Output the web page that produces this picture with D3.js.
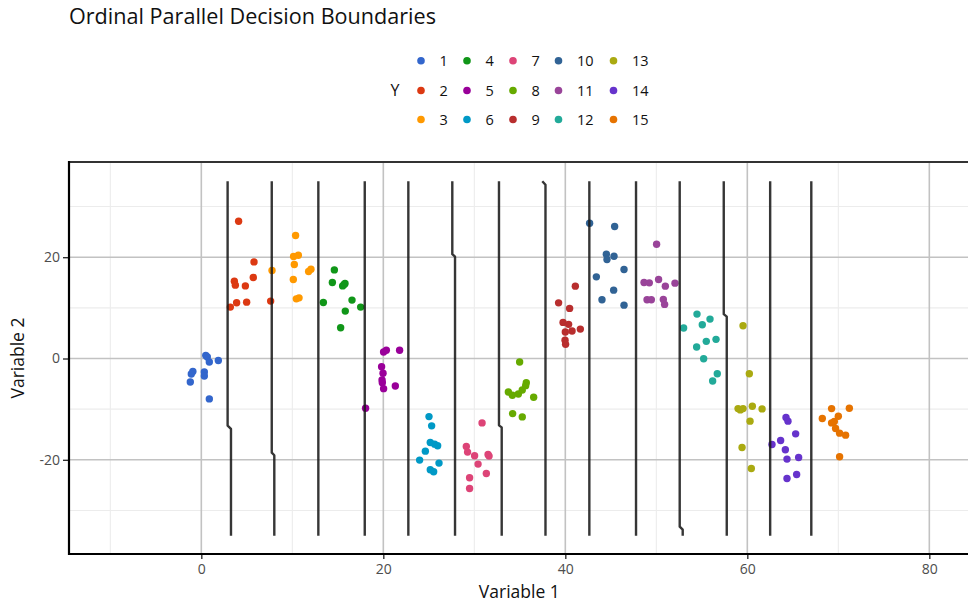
<!DOCTYPE html>
<html>
<head>
<meta charset="utf-8">
<script src="https://cdn.jsdelivr.net/npm/d3@7/dist/d3.min.js"></script>
<style>
  html, body { margin: 0; padding: 0; background: #fff; }
  svg { display: block; font-family: "Open Sans", "Noto Sans", sans-serif; }
</style>
</head>
<body>
<svg id="chart" width="968" height="603"></svg>
<script>
// ---- Data ---------------------------------------------------------------
const classes = [1, 2, 3, 4, 5, 6, 7, 8, 9, 10, 11, 12, 13, 14, 15];
const classColors = ["#3366cc", "#dc3912", "#ff9900", "#109618", "#990099",
                     "#0099c6", "#dd4477", "#66aa00", "#b82e2e", "#316395",
                     "#994499", "#22aa99", "#aaaa11", "#6633cc", "#e67300"];

// Variable 1 per observation, grouped by class
const var1 = [
  [0.66, 0.88, 1.87, -0.93, -1.10, 0.33, 0.33, -1.21, 0.88, 0.49],
  [4.10, 5.79, 3.63, 3.74, 5.71, 4.84, 3.88, 4.98, 3.19, 7.62],
  [10.36, 10.14, 10.66, 10.22, 7.77, 10.11, 11.79, 12.05, 10.44, 10.74],
  [14.62, 14.40, 15.53, 15.79, 13.41, 16.56, 17.51, 15.82, 15.31, 15.70],
  [20.03, 20.33, 21.79, 19.81, 19.97, 19.86, 19.89, 20.03, 21.32, 18.05],
  [25.02, 25.31, 25.16, 25.64, 25.97, 24.62, 23.99, 26.12, 25.16, 25.53],
  [30.85, 29.12, 29.26, 30.03, 31.51, 31.62, 30.41, 31.32, 29.48, 29.48],
  [34.98, 33.74, 34.18, 34.84, 35.27, 35.71, 35.64, 36.52, 34.21, 35.27],
  [41.10, 39.26, 40.47, 39.75, 40.36, 40.00, 40.74, 41.65, 39.97, 40.03],
  [42.67, 45.42, 44.51, 44.58, 45.35, 46.45, 43.41, 45.31, 44.03, 46.45],
  [50.03, 48.65, 49.23, 50.25, 50.99, 52.05, 48.98, 49.45, 50.77, 50.91],
  [54.47, 55.90, 55.05, 53.00, 55.49, 56.56, 54.43, 55.20, 56.70, 56.19],
  [59.53, 60.22, 58.98, 59.23, 59.53, 60.55, 61.62, 60.30, 59.42, 60.44],
  [64.25, 64.47, 65.31, 62.71, 63.66, 64.18, 64.36, 65.64, 65.42, 64.36],
  [69.26, 71.21, 68.24, 70.00, 69.26, 69.56, 69.70, 70.14, 70.80, 70.14]
];

// Variable 2 per observation, grouped by class
const var2 = [
  [0.30, -0.69, -0.39, -2.56, -3.05, -2.66, -3.45, -4.63, -7.98, 0.59],
  [27.09, 19.07, 15.27, 14.48, 16.00, 14.34, 11.00, 11.13, 10.15, 11.33],
  [24.28, 20.14, 20.39, 18.56, 17.38, 15.61, 17.18, 17.64, 11.78, 11.98],
  [17.50, 15.01, 14.34, 14.82, 11.07, 11.53, 10.15, 9.36, 6.07, 14.60],
  [1.28, 1.62, 1.62, -1.62, -2.92, -4.24, -4.77, -5.95, -5.42, -9.81],
  [-11.47, -13.30, -16.59, -16.91, -17.24, -18.29, -20.06, -20.65, -21.97, -22.36],
  [-12.71, -17.38, -18.48, -19.21, -18.96, -19.27, -20.85, -22.70, -23.55, -25.66],
  [-0.69, -6.60, -7.25, -7.00, -6.21, -4.77, -5.36, -7.65, -10.88, -11.53],
  [14.29, 10.99, 9.89, 7.13, 6.74, 5.22, 5.42, 5.81, 3.59, 2.80],
  [26.70, 26.05, 20.59, 19.55, 20.20, 17.58, 16.12, 13.50, 11.59, 10.54],
  [22.56, 15.01, 14.94, 15.61, 14.29, 14.88, 11.59, 11.59, 11.66, 10.68],
  [8.77, 7.78, 6.66, 6.01, 3.39, 3.78, 2.27, -0.04, -3.00, -4.43],
  [6.46, -3.00, -9.89, -10.15, -9.89, -9.42, -9.95, -12.37, -17.58, -21.71],
  [-11.66, -12.37, -14.88, -16.99, -16.20, -18.03, -19.86, -19.55, -22.90, -23.68],
  [-9.89, -9.81, -11.86, -11.39, -12.71, -12.45, -13.83, -14.74, -15.13, -19.41]
];

// Decision boundaries between consecutive classes: [variable 1, variable 2] vertices
const boundaries = [
  [[2.89, 35], [2.89, -13.25], [3.26, -13.9], [3.26, -35]],
  [[7.74, 35], [7.74, -18.6], [8.02, -19.1], [8.02, -35]],
  [[12.86, 35], [12.86, -35]],
  [[17.96, 35], [17.96, -35]],
  [[22.75, 35], [22.75, -35]],
  [[27.58, 35], [27.58, 20.6], [27.88, 20.1], [27.88, -35]],
  [[32.71, 35], [32.71, -13.2], [33.01, -13.6], [33.01, -35]],
  [[37.47, 35], [37.82, 34.3], [37.82, -35]],
  [[42.64, 35], [42.64, -35]],
  [[47.77, 35], [47.77, -35]],
  [[52.57, 35], [52.57, -33.2], [52.90, -33.8], [52.90, -35]],
  [[57.41, 35], [57.41, 8.75], [57.74, 8.27], [57.74, -35]],
  [[62.51, 35], [62.51, -35]],
  [[67.03, 35], [67.03, -35]]
];

const xMajorTicks = [0, 20, 40, 60, 80];
const xMinorTicks = [-10, 10, 30, 50, 70];
const yMajorTicks = [-20, 0, 20];
const yMinorTicks = [-30, -10, 10, 30];

const titleText = "Ordinal Parallel Decision Boundaries";
const xTitle = "Variable 1";
const yTitle = "Variable 2";
const legendTitle = "Y";

// ---- Layout -------------------------------------------------------------
const svg = d3.select("#chart");
const panel = { left: 68, right: 968, top: 162, bottom: 554 };

const x = d3.scaleLinear().domain([-14.65, 84.25]).range([panel.left, panel.right]);
const y = d3.scaleLinear().domain([-38.6, 38.8]).range([panel.bottom, panel.top]);
const color = d3.scaleOrdinal().domain(classes).range(classColors);

// Grid lines
const grid = svg.append("g");
grid.selectAll(".xminor").data(xMinorTicks).join("line")
  .attr("x1", d => x(d)).attr("x2", d => x(d))
  .attr("y1", panel.top).attr("y2", panel.bottom)
  .attr("stroke", "#ececec").attr("stroke-width", 1.1);
grid.selectAll(".yminor").data(yMinorTicks).join("line")
  .attr("y1", d => y(d)).attr("y2", d => y(d))
  .attr("x1", panel.left).attr("x2", panel.right)
  .attr("stroke", "#ececec").attr("stroke-width", 1.1);
grid.selectAll(".xmajor").data(xMajorTicks).join("line")
  .attr("x1", d => x(d)).attr("x2", d => x(d))
  .attr("y1", panel.top).attr("y2", panel.bottom)
  .attr("stroke", "#c2c2c2").attr("stroke-width", 1.6);
grid.selectAll(".ymajor").data(yMajorTicks).join("line")
  .attr("y1", d => y(d)).attr("y2", d => y(d))
  .attr("x1", panel.left).attr("x2", panel.right)
  .attr("stroke", "#c2c2c2").attr("stroke-width", 1.6);

// Observations
const points = [];
classes.forEach((c, i) => {
  var1[i].forEach((v, j) => points.push({ cls: c, v1: v, v2: var2[i][j] }));
});
svg.append("g").selectAll("circle").data(points).join("circle")
  .attr("cx", d => x(d.v1))
  .attr("cy", d => y(d.v2))
  .attr("r", 3.7)
  .attr("fill", d => color(d.cls));

// Boundary paths drawn over the points
const line = d3.line().x(d => x(d[0])).y(d => y(d[1]));
svg.append("g").selectAll("path").data(boundaries).join("path")
  .attr("d", line)
  .attr("fill", "none")
  .attr("stroke", "#1a1a1a")
  .attr("stroke-opacity", 0.88)
  .attr("stroke-width", 2.4)
  .attr("stroke-linejoin", "round")
  .attr("stroke-linecap", "butt");

// Panel top border
svg.append("line")
  .attr("x1", panel.left).attr("x2", panel.right)
  .attr("y1", panel.top).attr("y2", panel.top)
  .attr("stroke", "#333").attr("stroke-width", 1.8);

// Axes
const xAxis = d3.axisBottom(x).tickValues(xMajorTicks).tickSize(5).tickPadding(5);
const yAxis = d3.axisLeft(y).tickValues(yMajorTicks).tickSize(5).tickPadding(3)
  .tickFormat(d => d < 0 ? "-" + Math.abs(d) : d);

const gx = svg.append("g").attr("transform", `translate(0,${panel.bottom})`).call(xAxis);
const gy = svg.append("g").attr("transform", `translate(${panel.left},0)`).call(yAxis);
[gx, gy].forEach(g => {
  g.select(".domain").remove();
  g.selectAll(".tick line").attr("stroke", "#222").attr("stroke-width", 1.3);
  g.selectAll(".tick text").attr("fill", "#4d4d4d")
    .style("font-size", "14px").style("font-family", "'Open Sans', sans-serif");
});
svg.append("line")
  .attr("x1", panel.left).attr("x2", panel.right)
  .attr("y1", panel.bottom).attr("y2", panel.bottom)
  .attr("stroke", "#000").attr("stroke-width", 2.2);
svg.append("line")
  .attr("x1", panel.left + 1).attr("x2", panel.left + 1)
  .attr("y1", panel.top - 1).attr("y2", panel.bottom + 1)
  .attr("stroke", "#000").attr("stroke-width", 2.2);

// Titles
svg.append("text")
  .attr("x", 69).attr("y", 24)
  .attr("fill", "#111")
  .style("font-size", "21.6px")
  .text(titleText);

svg.append("text")
  .attr("x", (x(0) + x(80)) / 2 - 46).attr("y", 598)
  .attr("text-anchor", "middle")
  .attr("fill", "#111")
  .style("font-size", "17.5px")
  .text(xTitle);

svg.append("text")
  .attr("transform", `translate(24,${(panel.top + panel.bottom) / 2}) rotate(-90)`)
  .attr("text-anchor", "middle")
  .attr("fill", "#111")
  .style("font-size", "17.5px")
  .text(yTitle);

// Legend: 3 rows, filled column by column
const legendColDot = [421, 467, 513, 558.5, 613.5];
const legendRowY = [60.7, 90.5, 119.5];
const legend = svg.append("g");
legend.append("text")
  .attr("x", 395).attr("y", legendRowY[1])
  .attr("dy", "0.36em")
  .attr("text-anchor", "middle")
  .attr("fill", "#111")
  .style("font-size", "16px")
  .text(legendTitle);

const items = legend.selectAll("g.item").data(classes).join("g")
  .attr("transform", (d, i) => `translate(${legendColDot[Math.floor(i / 3)]},${legendRowY[i % 3]})`);
items.append("circle").attr("r", 3.8).attr("fill", d => color(d));
items.append("text")
  .attr("x", 18.5).attr("dy", "0.36em")
  .attr("fill", "#111")
  .style("font-size", "14.5px")
  .text(d => d);
</script>
</body>
</html>
